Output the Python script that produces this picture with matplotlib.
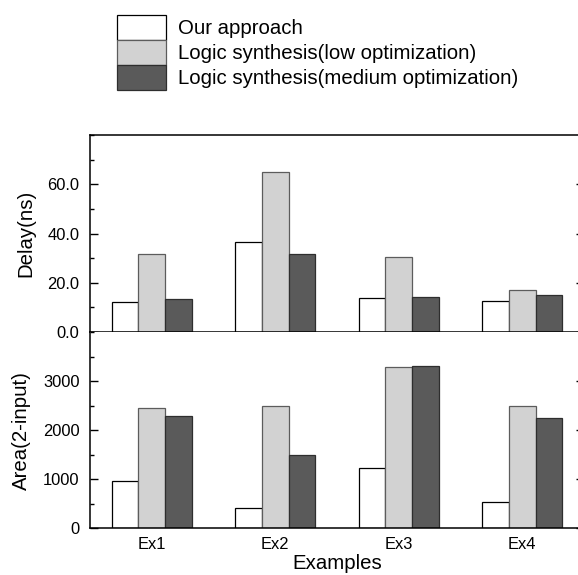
import numpy as np
import matplotlib
matplotlib.use('Agg')
from matplotlib import pyplot as plt
from matplotlib.patches import Patch
from matplotlib.ticker import MultipleLocator, FormatStrFormatter

examples = ['Ex1', 'Ex2', 'Ex3', 'Ex4']
series_names = ['Our approach',
                'Logic synthesis(low optimization)',
                'Logic synthesis(medium optimization)']

delay_ours = [12.0, 36.5, 14.0, 12.7]
delay_low = [31.6, 64.8, 30.6, 17.2]
delay_medium = [13.4, 31.6, 14.1, 14.9]

area_ours = [965, 420, 1237, 530]
area_low = [2450, 2482, 3285, 2500]
area_medium = [2298, 1496, 3312, 2245]

plt.rcParams['font.family'] = ['Liberation Sans', 'DejaVu Sans']

W, H = 578, 575
fig = plt.figure(figsize=(W / 100, H / 100), dpi=100)

# axes placed in pixel terms (right spine falls just outside the picture)
left, right = 90, 584
ax_top = fig.add_axes([left / W, 1 - 332 / H, (right - left) / W, (332 - 135) / H])
ax_bot = fig.add_axes([left / W, 1 - 528.3 / H, (right - left) / W, (528.3 - 332) / H])

x = np.arange(1, len(examples) + 1)
bw = 0.215
fills = ['white', '#d2d2d2', '#5a5a5a']
edges = ['black', '#5c5c5c', '#2e2e2e']
tick_fs = 11.9
label_fs = 14.7

for ax, data in [(ax_top, [delay_ours, delay_low, delay_medium]),
                 (ax_bot, [area_ours, area_low, area_medium])]:
    for i, vals in enumerate(data):
        ax.bar(x + (i - 1) * bw, vals, bw, color=fills[i], edgecolor=edges[i],
               linewidth=0.9, zorder=2)
    ax.set_xlim(0.5, 4.5)
    for s in ax.spines.values():
        s.set_linewidth(1.1)
        s.set_zorder(3)
    ax.tick_params(axis='y', which='major', direction='in', length=5.8, width=1.0,
                   labelsize=tick_fs, pad=7.5, right=True)
    ax.tick_params(axis='y', which='minor', direction='in', length=3.2, width=1.0,
                   right=False)

# top panel: delay
ax_top.set_ylim(0, 80)
ax_top.set_yticks([0, 20, 40, 60])
ax_top.yaxis.set_minor_locator(MultipleLocator(10))
ax_top.yaxis.set_major_formatter(FormatStrFormatter('%.1f'))
ax_top.set_xticks(x)
ax_top.tick_params(axis='x', direction='out', length=5.8, width=1.0, labelbottom=False)
ax_top.set_ylabel('Delay(ns)', fontsize=label_fs, labelpad=8.5)

# bottom panel: area
ax_bot.set_ylim(0, 4000)
ax_bot.set_yticks([0, 1000, 2000, 3000])
ax_bot.yaxis.set_minor_locator(MultipleLocator(500))
ax_bot.set_xticks(x)
ax_bot.set_xticklabels(examples)
ax_bot.tick_params(axis='x', length=0, labelsize=tick_fs, pad=6)
ax_bot.spines['top'].set_visible(False)
ax_bot.set_ylabel('Area(2-input)', fontsize=label_fs, labelpad=8.5)
ax_bot.set_xlabel('Examples', fontsize=label_fs, labelpad=2)

handles = [Patch(facecolor=fills[i], edgecolor=edges[i], linewidth=0.9) for i in range(3)]
fig.legend(handles, series_names, loc='upper left',
           bbox_to_anchor=(116.7 / W, 1 - 15 / H), frameon=False,
           fontsize=label_fs, borderpad=0, borderaxespad=0, labelspacing=0,
           handlelength=2.4, handleheight=1.5, handletextpad=0.62)

fig.savefig('out.png', dpi=100)
